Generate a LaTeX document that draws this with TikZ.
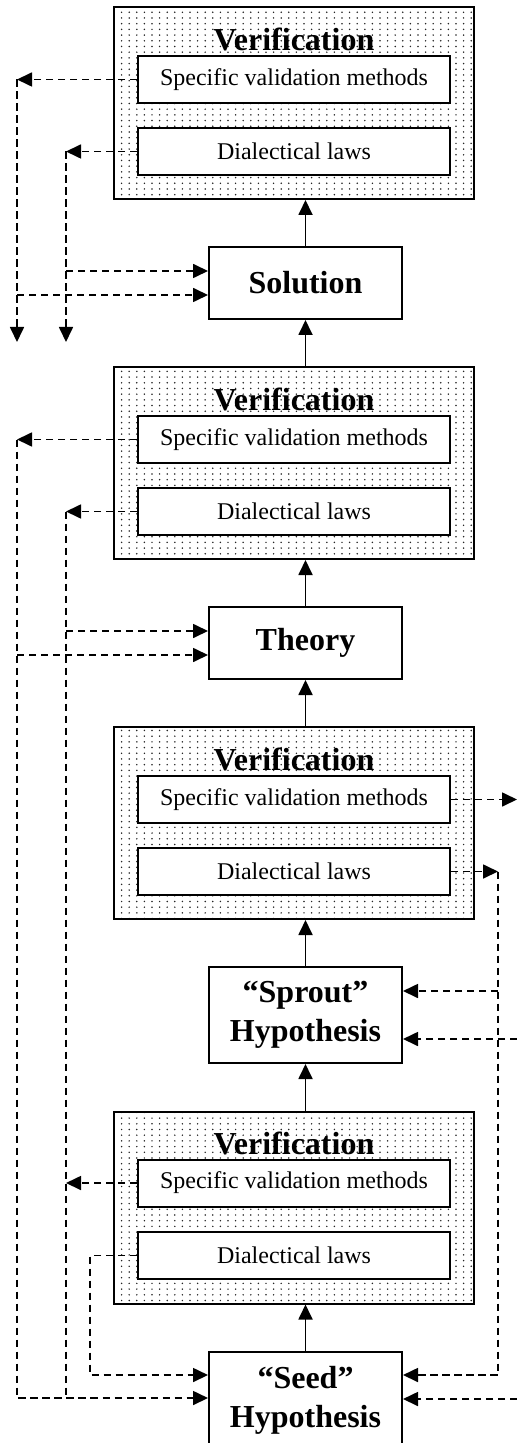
\documentclass[tikz,border=0pt]{standalone}
\usepackage{fontspec}
\setmainfont{Liberation Serif}
\usetikzlibrary{patterns,arrows.meta,calc}
\pgfdeclarepatternformonly{mydots}{\pgfqpoint{-1pt}{-1pt}}{\pgfqpoint{1pt}{1pt}}{\pgfqpoint{3.8pt}{2.85pt}}{\pgfpathcircle{\pgfqpoint{0pt}{0pt}}{0.42pt}\pgfusepath{fill}}
\begin{document}
\begin{tikzpicture}[x=0.5pt,y=-0.5pt,
  verif/.style={draw, line width=1pt, pattern=mydots, pattern color=black!85, minimum width=180pt, minimum height=96pt, inner sep=0pt},
  innerbox/.style={draw, fill=white, line width=1pt, minimum width=156pt, minimum height=23.5pt, inner sep=0pt, font=\fontsize{12}{14}\selectfont},
  vtitle/.style={font=\fontsize{16}{19.5}\selectfont\bfseries, inner sep=0pt},
  stage/.style={draw, fill=white, line width=1pt, minimum width=96.5pt, inner sep=0pt, font=\fontsize{16}{19.5}\selectfont\bfseries, align=center},
  dsh/.style={dash pattern=on 3.6pt off 2.4pt, line width=0.85pt},
  tip/.style={-{Triangle[length=7.5pt,width=7pt]}},
  sarrow/.style={line width=0.9pt, -{Triangle[length=7.5pt,width=7pt]}}]
\clip (0,0) rectangle (517,1443);

% verification blocks
\node[verif] (v1) at (294,103) {};
\node[vtitle] (t1) at (294,39) {Verification};
\node[innerbox] (svm1) at (294,79.5) {Specific validation methods};
\node[innerbox] (dl1) at (294,151.5) {Dialectical laws};

\node[verif] (v2) at (294,463) {};
\node[vtitle] (t2) at (294,399) {Verification};
\node[innerbox] (svm2) at (294,439.5) {Specific validation methods};
\node[innerbox] (dl2) at (294,511.5) {Dialectical laws};

\node[verif] (v3) at (294,823) {};
\node[vtitle] (t3) at (294,759) {Verification};
\node[innerbox] (svm3) at (294,799.5) {Specific validation methods};
\node[innerbox] (dl3) at (294,871.5) {Dialectical laws};

\node[verif] (v4) at (294,1207.5) {};
\node[vtitle] (t4) at (294,1143) {Verification};
\node[innerbox] (svm4) at (294,1183) {Specific validation methods};
\node[innerbox] (dl4) at (294,1255.5) {Dialectical laws};

% stages
\node[stage, minimum height=36pt] (sol) at (305.5,283) {Solution};
\node[stage, minimum height=36pt] (theo) at (305.5,643) {Theory};
\node[stage, minimum height=48pt] (sprout) at (305.5,1015) {“Sprout”\\Hypothesis};
\node[stage, minimum height=48pt] (seed) at (305.5,1400) {“Seed”\\Hypothesis};

% solid arrows
\draw[sarrow] (sol.north) -- (sol.north |- v1.south);
\draw[sarrow] (sol.south |- v2.north) -- (sol.south);
\draw[sarrow] (theo.north) -- (theo.north |- v2.south);
\draw[sarrow] (theo.south |- v3.north) -- (theo.south);
\draw[sarrow] (sprout.north) -- (sprout.north |- v3.south);
\draw[sarrow] (sprout.south |- v4.north) -- (sprout.south);
\draw[sarrow] (seed.north) -- (seed.north |- v4.south);

% guide coordinates
\coordinate (L) at (17,0);
\coordinate (M) at (66,0);
\coordinate (N) at (90,0);
\coordinate (R) at (498,0);
\coordinate (E) at (517,0);
\coordinate (B) at (0,342);
\coordinate (solhi) at ([yshift=6pt]sol.west);
\coordinate (sollo) at ([yshift=-6pt]sol.west);
\coordinate (theohi) at ([yshift=6pt]theo.west);
\coordinate (theolo) at ([yshift=-6pt]theo.west);
\coordinate (sprhi) at ([yshift=12pt]sprout.east);
\coordinate (sprlo) at ([yshift=-12pt]sprout.east);
\coordinate (seedhiW) at ([yshift=12.5pt]seed.west);
\coordinate (seedloW) at ([yshift=1pt]seed.west);
\coordinate (seedhiE) at ([yshift=12.5pt]seed.east);
\coordinate (seedloE) at ([yshift=0.5pt]seed.east);

% top block (Solution level)
\draw[dsh,tip] (svm1.west) -- (svm1.west -| L);
\draw[dsh,tip] (svm1.west -| L) -- (L |- B);
\draw[dsh,tip] (dl1.west) -- (dl1.west -| M);
\draw[dsh,tip] (dl1.west -| M) -- (M |- B);
\draw[dsh,tip] (solhi -| M) -- (solhi);
\draw[dsh,tip] (sollo -| L) -- (sollo);

% second block (Theory level)
\draw[dsh,tip] (svm2.west) -- (svm2.west -| L);
\draw[dsh,tip] (dl2.west) -- (dl2.west -| M);
\draw[dsh,tip] (theohi -| M) -- (theohi);
\draw[dsh,tip] (theolo -| L) -- (theolo);
\draw[dsh,tip] (svm2.west -| L) |- (seedloW);
\draw[dsh] (dl2.west -| M) -- (seedloW -| M);

% third block (Sprout level)
\draw[dsh,tip] (svm3.east) -- (svm3.east -| E);
\draw[dsh,tip] (dl3.east) -- (dl3.east -| R);
\draw[dsh,tip] (dl3.east -| R) |- (seedhiE);
\draw[dsh,tip] (sprhi -| R) -- (sprhi);
\draw[dsh,tip] (sprlo -| E) -- (sprlo);
\draw[dsh,tip] (seedloE -| E) -- (seedloE);

% fourth block (Seed level)
\draw[dsh,tip] (svm4.west) -- (svm4.west -| M);
\draw[dsh,tip] (dl4.west) -| (seedhiW -| N) -- (seedhiW);
\end{tikzpicture}
\end{document}
